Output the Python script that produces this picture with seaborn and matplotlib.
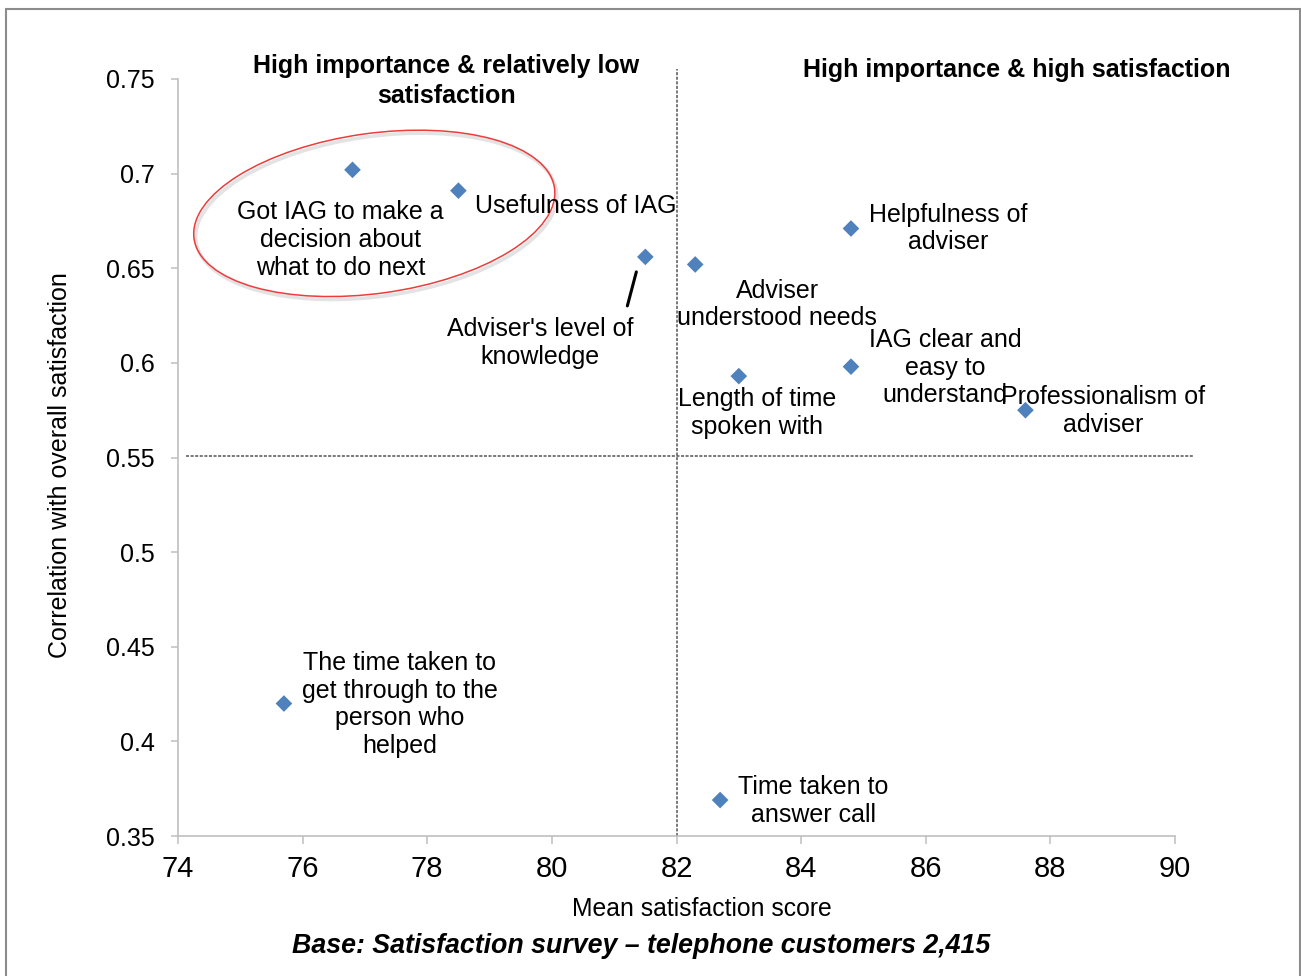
import matplotlib
matplotlib.use("Agg")
import matplotlib.pyplot as plt
import matplotlib.transforms as mtransforms
from matplotlib.patches import Ellipse, Rectangle
import seaborn as sns
import pandas as pd

# Satisfaction drivers: mean score vs correlation with overall satisfaction
items = [
    "Got IAG to make a\ndecision about\nwhat to do next",
    "Usefulness of IAG",
    "Adviser's level of\nknowledge",
    "Adviser\nunderstood needs",
    "Helpfulness of\nadviser",
    "IAG clear and\neasy to\nunderstand",
    "Length of time\nspoken with",
    "Professionalism of\nadviser",
    "The time taken to\nget through to the\nperson who\nhelped",
    "Time taken to\nanswer call",
]
mean_score = [76.8, 78.5, 81.5, 82.3, 84.8, 84.8, 83.0, 87.6, 75.7, 82.7]
correlation = [0.702, 0.691, 0.656, 0.652, 0.671, 0.598, 0.593, 0.575, 0.420, 0.369]

x_ticks = [74, 76, 78, 80, 82, 84, 86, 88, 90]
y_ticks = [0.35, 0.4, 0.45, 0.5, 0.55, 0.6, 0.65, 0.7, 0.75]
y_tick_labels = ["0.35", "0.4", "0.45", "0.5", "0.55", "0.6", "0.65", "0.7", "0.75"]

mean_split = 82.0
corr_split = 0.551

# label offsets from each point, in pixels (right, up)
label_offsets = [(-12, -70), (117, -15), (-105, -86), (82, -40), (97, 0),
                 (94, -1), (18, -37), (78, -1), (116, -1), (93, -1)]

df = pd.DataFrame({"item": items, "mean": mean_score, "corr": correlation})

sns.set_theme(style="white")
plt.rcParams["font.family"] = ["Liberation Sans", "DejaVu Sans"]
plt.rcParams["text.color"] = "black"
plt.rcParams["axes.labelcolor"] = "black"
plt.rcParams["xtick.color"] = "black"
plt.rcParams["ytick.color"] = "black"

DPI = 100
fig = plt.figure(figsize=(13.01, 9.76), dpi=DPI)
ax = fig.add_axes([178 / 1301, 1 - 836 / 976, (1175 - 178) / 1301, (836 - 79) / 976])

sns.scatterplot(data=df, x="mean", y="corr", ax=ax, marker="D", s=72,
                color="#4f81bd", edgecolor="none", zorder=4)

ax.set_xlim(74, 90)
ax.set_ylim(0.35, 0.75)
ax.set_xticks(x_ticks)
ax.set_xticklabels([str(t) for t in x_ticks])
ax.set_yticks(y_ticks)
ax.set_yticklabels(y_tick_labels)

for side in ("top", "right"):
    ax.spines[side].set_visible(False)
for side in ("left", "bottom"):
    ax.spines[side].set_color("#bfbfbf")
    ax.spines[side].set_linewidth(1.2)

ax.tick_params(axis="x", direction="out", length=6, width=1.1, color="#bfbfbf",
               labelcolor="black", labelsize=21, pad=8, bottom=True)
ax.tick_params(axis="y", direction="out", length=5, width=1.1, color="#bfbfbf",
               labelcolor="black", labelsize=18, pad=11.5, left=True)
ax.set_xlabel("")
ax.set_ylabel("")

# quadrant dividers
ax.plot([mean_split, mean_split], [0.35, 0.7553], color="#555555", lw=1.1,
        ls=(0, (2, 1)), clip_on=False, zorder=2)
ax.plot([74.13, 90.29], [corr_split, corr_split], color="#555555", lw=1.1,
        ls=(0, (2, 1)), clip_on=False, zorder=2)

# point labels
for label, x, y, (dx, dy) in zip(items, mean_score, correlation, label_offsets):
    ax.annotate(label, xy=(x, y), xytext=(dx, dy), textcoords="offset pixels",
                ha="center", va="center", fontsize=18, color="black",
                linespacing=1.2, zorder=5)

# leader line for "Adviser's level of knowledge"
lead_tr = fig.dpi_scale_trans + mtransforms.ScaledTranslation(mean_score[2], correlation[2], ax.transData)
ax.plot([-0.09, -0.18], [-0.15, -0.49], color="black", lw=2.2, transform=lead_tr,
        clip_on=False, zorder=5)

# highlight ring around the low-satisfaction items
ring_tr = fig.dpi_scale_trans + mtransforms.ScaledTranslation(77.15, 0.679, ax.transData)
shadow = Ellipse((0.02, -0.03), 3.64, 1.6, angle=8, transform=ring_tr, fill=False,
                 edgecolor="#e3e3e3", lw=2.5, zorder=3, clip_on=False)
ring = Ellipse((0, 0), 3.64, 1.6, angle=8, transform=ring_tr, fill=False,
               edgecolor="#ee3b3b", lw=1.1, zorder=3, clip_on=False)
ax.add_patch(shadow)
ax.add_patch(ring)

# quadrant titles
fig.text(446 / 1301, 1 - 81 / 976, "High importance & relatively low\nsatisfaction",
         ha="center", va="center", fontsize=18, fontweight="bold", linespacing=1.3,
         color="black")
fig.text(1017 / 1301, 1 - 70 / 976, "High importance & high satisfaction",
         ha="center", va="center", fontsize=18, fontweight="bold", color="black")

# axis titles and base note
fig.text(702 / 1301, 1 - 909 / 976, "Mean satisfaction score",
         ha="center", va="center", fontsize=17.8, color="black")
fig.text(60 / 1301, 1 - 465 / 976, "Correlation with overall satisfaction",
         ha="center", va="center", fontsize=18, rotation=90, color="black")
fig.text(641 / 1301, 1 - 946 / 976, "Base: Satisfaction survey \u2013 telephone customers 2,415",
         ha="center", va="center", fontsize=19.3, fontweight="bold", fontstyle="italic",
         color="black")

# outer frame
fig.patches.append(Rectangle((6 / 1301, -0.05), (1300 - 6) / 1301, 1.05 - 9 / 976,
                             transform=fig.transFigure, fill=False,
                             edgecolor="#8c8c8c", lw=1.5))

fig.savefig("out.png", dpi=DPI)
